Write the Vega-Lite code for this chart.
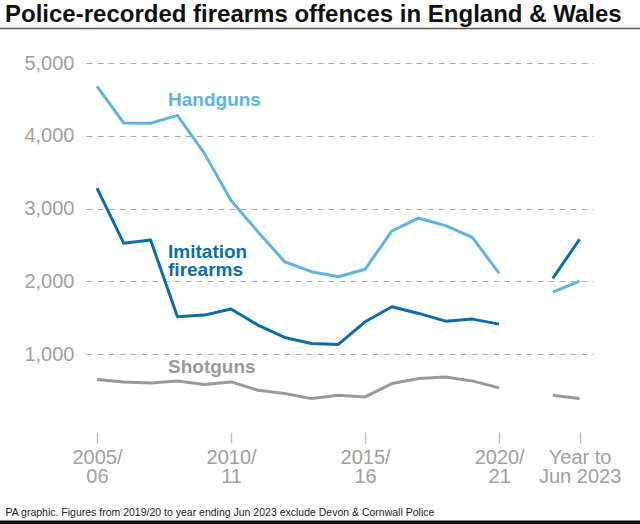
{
  "$schema": "https://vega.github.io/schema/vega-lite/v6.json",
  "width": 507,
  "height": 364,
  "autosize": {"type": "none"},
  "padding": {"left": 86, "top": 63, "right": 47, "bottom": 97},
  "background": "white",
  "title": {
    "text": "Police-recorded firearms offences in England & Wales",
    "anchor": "start",
    "frame": "group",
    "dx": -81,
    "offset": 1,
    "font": "Liberation Sans",
    "fontSize": 24,
    "fontWeight": "bold",
    "color": "#111111"
  },
  "config": {
    "view": {"stroke": null},
    "font": "Liberation Sans"
  },
  "datasets": {
    "series": [
      {"idx": 0, "series": "Handguns", "seg": "a", "value": 4680},
      {"idx": 1, "series": "Handguns", "seg": "a", "value": 4175},
      {"idx": 2, "series": "Handguns", "seg": "a", "value": 4172},
      {"idx": 3, "series": "Handguns", "seg": "a", "value": 4280},
      {"idx": 4, "series": "Handguns", "seg": "a", "value": 3762},
      {"idx": 5, "series": "Handguns", "seg": "a", "value": 3110},
      {"idx": 6, "series": "Handguns", "seg": "a", "value": 2683},
      {"idx": 7, "series": "Handguns", "seg": "a", "value": 2270},
      {"idx": 8, "series": "Handguns", "seg": "a", "value": 2133},
      {"idx": 9, "series": "Handguns", "seg": "a", "value": 2064},
      {"idx": 10, "series": "Handguns", "seg": "a", "value": 2166},
      {"idx": 11, "series": "Handguns", "seg": "a", "value": 2693},
      {"idx": 12, "series": "Handguns", "seg": "a", "value": 2868},
      {"idx": 13, "series": "Handguns", "seg": "a", "value": 2766},
      {"idx": 14, "series": "Handguns", "seg": "a", "value": 2606},
      {"idx": 15, "series": "Handguns", "seg": "a", "value": 2110},
      {"idx": 17, "series": "Handguns", "seg": "b", "value": 1853},
      {"idx": 18, "series": "Handguns", "seg": "b", "value": 2005},
      {"idx": 0, "series": "Imitation firearms", "seg": "a", "value": 3280},
      {"idx": 1, "series": "Imitation firearms", "seg": "a", "value": 2523},
      {"idx": 2, "series": "Imitation firearms", "seg": "a", "value": 2569},
      {"idx": 3, "series": "Imitation firearms", "seg": "a", "value": 1514},
      {"idx": 4, "series": "Imitation firearms", "seg": "a", "value": 1537},
      {"idx": 5, "series": "Imitation firearms", "seg": "a", "value": 1620},
      {"idx": 6, "series": "Imitation firearms", "seg": "a", "value": 1400},
      {"idx": 7, "series": "Imitation firearms", "seg": "a", "value": 1230},
      {"idx": 8, "series": "Imitation firearms", "seg": "a", "value": 1148},
      {"idx": 9, "series": "Imitation firearms", "seg": "a", "value": 1134},
      {"idx": 10, "series": "Imitation firearms", "seg": "a", "value": 1445},
      {"idx": 11, "series": "Imitation firearms", "seg": "a", "value": 1651},
      {"idx": 12, "series": "Imitation firearms", "seg": "a", "value": 1560},
      {"idx": 13, "series": "Imitation firearms", "seg": "a", "value": 1454},
      {"idx": 14, "series": "Imitation firearms", "seg": "a", "value": 1482},
      {"idx": 15, "series": "Imitation firearms", "seg": "a", "value": 1413},
      {"idx": 17, "series": "Imitation firearms", "seg": "b", "value": 2042},
      {"idx": 18, "series": "Imitation firearms", "seg": "b", "value": 2579},
      {"idx": 0, "series": "Shotguns", "seg": "a", "value": 652},
      {"idx": 1, "series": "Shotguns", "seg": "a", "value": 619},
      {"idx": 2, "series": "Shotguns", "seg": "a", "value": 605},
      {"idx": 3, "series": "Shotguns", "seg": "a", "value": 633},
      {"idx": 4, "series": "Shotguns", "seg": "a", "value": 583},
      {"idx": 5, "series": "Shotguns", "seg": "a", "value": 619},
      {"idx": 6, "series": "Shotguns", "seg": "a", "value": 505},
      {"idx": 7, "series": "Shotguns", "seg": "a", "value": 459},
      {"idx": 8, "series": "Shotguns", "seg": "a", "value": 390},
      {"idx": 9, "series": "Shotguns", "seg": "a", "value": 436},
      {"idx": 10, "series": "Shotguns", "seg": "a", "value": 413},
      {"idx": 11, "series": "Shotguns", "seg": "a", "value": 597},
      {"idx": 12, "series": "Shotguns", "seg": "a", "value": 666},
      {"idx": 13, "series": "Shotguns", "seg": "a", "value": 688},
      {"idx": 14, "series": "Shotguns", "seg": "a", "value": 633},
      {"idx": 15, "series": "Shotguns", "seg": "a", "value": 537},
      {"idx": 17, "series": "Shotguns", "seg": "b", "value": 436},
      {"idx": 18, "series": "Shotguns", "seg": "b", "value": 390}
    ],
    "labels": [
      {"idx": 2.65, "value": 4486, "series": "Handguns", "label": ["Handguns"]},
      {"idx": 2.65, "value": 2400, "series": "Imitation firearms", "label": ["Imitation", "firearms"]},
      {"idx": 2.65, "value": 826, "series": "Shotguns", "label": ["Shotguns"]}
    ],
    "frame": [
      {"x0": -3.7, "x1": 20.4, "y": 5473, "part": "top"},
      {"x0": -3.7, "x1": 20.4, "y": -1320, "part": "bottom"}
    ]
  },
  "layer": [
    {
      "mark": {"type": "rule", "color": "#c6c6c6", "strokeWidth": 2},
      "encoding": {
        "y": {"datum": 0, "type": "quantitative", "scale": {"domain": [0, 5000], "nice": false}}
      }
    },
    {
      "data": {"name": "frame"},
      "mark": {"type": "rule", "clip": false},
      "encoding": {
        "x": {"field": "x0", "type": "quantitative"},
        "x2": {"field": "x1"},
        "y": {"field": "y", "type": "quantitative"},
        "strokeWidth": {"condition": {"test": "datum.part == 'top'", "value": 1.5}, "value": 5},
        "stroke": {"condition": {"test": "datum.part == 'top'", "value": "#555555"}, "value": "#111111"}
      }
    },
    {
      "data": {"name": "series"},
      "mark": {"type": "line", "strokeWidth": 3, "strokeJoin": "round"},
      "encoding": {
        "x": {
          "field": "idx",
          "type": "quantitative",
          "scale": {"domain": [-0.41, 18.5], "nice": false, "zero": false},
          "axis": {
            "values": [0, 5, 10, 15, 18],
            "labelExpr": "datum.value == 0 ? ['2005/', '06'] : datum.value == 5 ? ['2010/', '11'] : datum.value == 10 ? ['2015/', '16'] : datum.value == 15 ? ['2020/', '21'] : ['Year to', 'Jun 2023']",
            "offset": 5,
            "domain": false,
            "grid": false,
            "ticks": true,
            "tickSize": 11,
            "tickColor": "#bdbdbd",
            "tickWidth": 1.5,
            "labelFont": "Liberation Sans",
            "labelFontSize": 20,
            "labelColor": "#a0a0a0",
            "labelPadding": 4,
            "labelLineHeight": 19,
            "labelBaseline": "top",
            "labelFlush": false,
            "labelOverlap": false,
            "title": "PA graphic. Figures from 2019/20 to year ending Jun 2023 exclude Devon & Cornwall Police",
            "titleX": -81,
            "titleY": 80,
            "titleAlign": "left",
            "titleBaseline": "middle",
            "titleFont": "Liberation Sans",
            "titleFontSize": 10.5,
            "titleFontWeight": "normal",
            "titleColor": "#222222"
          }
        },
        "y": {
          "field": "value",
          "type": "quantitative",
          "scale": {"domain": [0, 5000], "nice": false},
          "axis": {
            "values": [1000, 2000, 3000, 4000, 5000],
            "format": ",.0f",
            "domain": false,
            "ticks": false,
            "grid": true,
            "gridDash": [6, 5],
            "gridColor": "#aaaaaa",
            "gridWidth": 1,
            "labelFont": "Liberation Sans",
            "labelFontSize": 20,
            "labelColor": "#a0a0a0",
            "labelPadding": 12,
            "title": null
          }
        },
        "color": {
          "field": "series",
          "type": "nominal",
          "scale": {"domain": ["Handguns", "Imitation firearms", "Shotguns"], "range": ["#62b4e0", "#0b6ea8", "#999999"]},
          "legend": null
        },
        "detail": {"field": "seg"}
      }
    },
    {
      "data": {"name": "labels"},
      "mark": {"type": "text", "align": "left", "baseline": "middle", "font": "Liberation Sans", "fontSize": 19, "fontWeight": "bold", "lineHeight": 18},
      "encoding": {
        "x": {"field": "idx", "type": "quantitative"},
        "y": {"field": "value", "type": "quantitative"},
        "text": {"field": "label"},
        "color": {"field": "series", "type": "nominal", "legend": null}
      }
    }
  ]
}
